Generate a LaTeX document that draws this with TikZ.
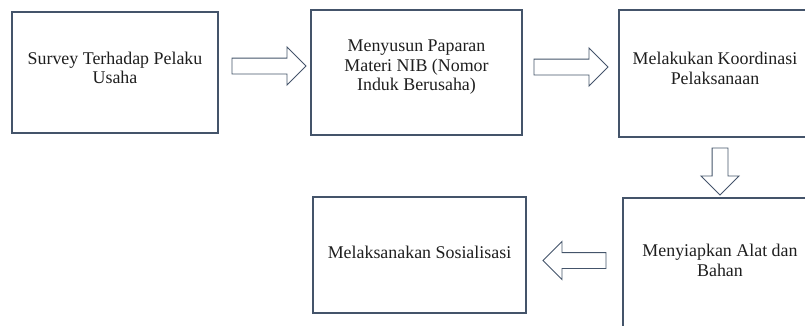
\documentclass[tikz,border=0pt]{standalone}
\usepackage{fontspec}
\setmainfont{Liberation Serif}
\usetikzlibrary{shapes.arrows}
\definecolor{slate}{RGB}{68,84,106}
\definecolor{ink}{RGB}{30,30,30}

\begin{document}
\begin{tikzpicture}[x=1pt, y=-1pt,
		box/.style={
			draw=slate, line width=1.3pt, rectangle, inner sep=0pt
		},
		txt/.style={
			text=ink, align=center, inner sep=0pt,
			font=\fontsize{17.9}{19.8}\selectfont
		},
		blockarr/.style={
			draw=slate, line width=0.9pt, single arrow,
			single arrow head extend=11pt, inner sep=7.5pt, minimum width=1pt
		},
		]
		\useasboundingbox (0,0) rectangle (805,325);
		\clip (0,0) rectangle (805,325);
		
		% top row
		\node[box, minimum width=206pt, minimum height=121pt] (survey) at (115, 72.5) {};
		\node[box, minimum width=211pt, minimum height=125pt] (materi) at (416.5, 72.5) {};
		\node[box, minimum width=192pt, minimum height=127pt] (koord)  at (715, 73.5) {};
		
		\node[txt] (survey-t) at (115, 67.9) {Survey Terhadap Pelaku\\Usaha};
		\node[txt] (materi-t) at (416.5, 67.1) {Menyusun Paparan\\Materi NIB (Nomor\\Induk Berusaha)};
		\node[txt] (koord-t)  at (715, 68.4) {Melakukan Koordinasi\\Pelaksanaan};
		
		% bottom row
		\node[box, minimum width=194pt, minimum height=147pt] (alat)  at (720, 271.5) {};
		\node[box, minimum width=213pt, minimum height=116pt] (sosial) at (419.5, 255) {};
		
		\node[txt] (alat-t)   at (720, 260) {Menyiapkan Alat dan\\Bahan};
		\node[txt] (sosial-t) at (419.5, 252) {Melaksanakan Sosialisasi};
		
		% block arrows
		\node[blockarr, minimum height=74pt] (a1) at (265, 66) {};
		\node[blockarr, minimum height=74pt] (a2) at (567, 67) {};
		\node[blockarr, minimum height=47pt, rotate=-90] (a3) at (720, 167.5) {};
		\node[blockarr, minimum height=63pt, rotate=180] (a4) at (578.5, 260.5) {};
		
	\end{tikzpicture}
\end{document}
